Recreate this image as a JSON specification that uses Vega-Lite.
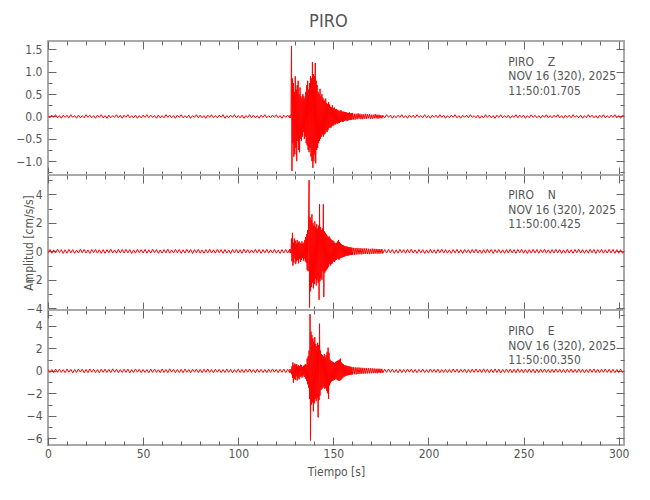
{
"$schema":"https://vega.github.io/schema/vega-lite/v6.json",
"padding":{"left":14,"top":12,"right":24,"bottom":18},
"bounds":"flush",
"spacing":0,
"title":{"text":"PIRO","anchor":"middle","fontSize":18,"font":"DejaVu Sans Condensed, sans-serif","fontWeight":"normal","color":"#555555","offset":9,"dx":6},
"config":{
 "view":{"stroke":"#a9a9a9","strokeWidth":2},
 "axis":{"domain":false,"grid":false,"labelFlush":false,"labelFont":"DejaVu Sans Condensed, sans-serif","labelFontSize":12,"labelColor":"#555555","titleFont":"DejaVu Sans Condensed, sans-serif","titleFontSize":12,"titleColor":"#555555","titleFontWeight":"normal","tickColor":"#666666","tickWidth":1}
},
"data":{"values":[
{"t":0,"z":0.02,"n":-0.11,"e":0.14},{"t":1,"z":-0.03,"n":0.13,"e":-0.15},{"t":2,"z":0.03,"n":-0.14,"e":0.12},{"t":3,"z":-0.02,"n":0.1,"e":-0.17},{"t":4,"z":0.04,"n":-0.12,"e":0.16},{"t":5,"z":-0.03,"n":0.15,"e":-0.13},{"t":6,"z":0.02,"n":-0.09,"e":0.15},{"t":7,"z":-0.04,"n":0.12,"e":-0.14},{"t":8,"z":0.03,"n":-0.15,"e":0.11},{"t":9,"z":-0.02,"n":0.11,"e":-0.16},
{"t":10,"z":0.03,"n":-0.13,"e":0.17},{"t":11,"z":-0.03,"n":0.14,"e":-0.12},{"t":12,"z":0.04,"n":-0.1,"e":0.14},{"t":13,"z":-0.02,"n":0.12,"e":-0.18},{"t":14,"z":0.02,"n":-0.14,"e":0.13},{"t":15,"z":-0.04,"n":0.09,"e":-0.15},{"t":16,"z":0.03,"n":-0.12,"e":0.16},{"t":17,"z":-0.03,"n":0.15,"e":-0.11},{"t":18,"z":0.02,"n":-0.11,"e":0.15},{"t":19,"z":-0.03,"n":0.13,"e":-0.17},
{"t":20,"z":0.04,"n":-0.12,"e":0.13},{"t":21,"z":-0.02,"n":0.1,"e":-0.16},{"t":22,"z":0.03,"n":-0.15,"e":0.17},{"t":23,"z":-0.03,"n":0.13,"e":-0.12},{"t":24,"z":0.02,"n":-0.1,"e":0.14},{"t":25,"z":-0.04,"n":0.14,"e":-0.15},{"t":26,"z":0.03,"n":-0.13,"e":0.12},{"t":27,"z":-0.02,"n":0.11,"e":-0.17},{"t":28,"z":0.04,"n":-0.14,"e":0.15},{"t":29,"z":-0.03,"n":0.12,"e":-0.13},
{"t":30,"z":0.02,"n":-0.14,"e":0.16},{"t":31,"z":-0.04,"n":0.12,"e":-0.14},{"t":32,"z":0.03,"n":-0.1,"e":0.13},{"t":33,"z":-0.03,"n":0.15,"e":-0.16},{"t":34,"z":0.02,"n":-0.12,"e":0.18},{"t":35,"z":-0.02,"n":0.1,"e":-0.12},{"t":36,"z":0.04,"n":-0.13,"e":0.15},{"t":37,"z":-0.03,"n":0.14,"e":-0.17},{"t":38,"z":0.03,"n":-0.11,"e":0.12},{"t":39,"z":-0.04,"n":0.13,"e":-0.14},
{"t":40,"z":0.03,"n":-0.12,"e":0.15},{"t":41,"z":-0.02,"n":0.14,"e":-0.13},{"t":42,"z":0.04,"n":-0.11,"e":0.16},{"t":43,"z":-0.03,"n":0.12,"e":-0.18},{"t":44,"z":0.02,"n":-0.15,"e":0.12},{"t":45,"z":-0.03,"n":0.1,"e":-0.15},{"t":46,"z":0.03,"n":-0.13,"e":0.17},{"t":47,"z":-0.04,"n":0.14,"e":-0.12},{"t":48,"z":0.02,"n":-0.1,"e":0.14},{"t":49,"z":-0.03,"n":0.12,"e":-0.16},
{"t":50,"z":0.03,"n":-0.12,"e":0.13},{"t":51,"z":-0.02,"n":0.14,"e":-0.15},{"t":52,"z":0.04,"n":-0.13,"e":0.12},{"t":53,"z":-0.03,"n":0.11,"e":-0.17},{"t":54,"z":0.03,"n":-0.12,"e":0.15},{"t":55,"z":-0.02,"n":0.15,"e":-0.14},{"t":56,"z":0.02,"n":-0.1,"e":0.16},{"t":57,"z":-0.04,"n":0.13,"e":-0.13},{"t":58,"z":0.03,"n":-0.14,"e":0.11},{"t":59,"z":-0.03,"n":0.1,"e":-0.16},
{"t":60,"z":0.02,"n":-0.13,"e":0.17},{"t":61,"z":-0.03,"n":0.12,"e":-0.14},{"t":62,"z":0.04,"n":-0.11,"e":0.13},{"t":63,"z":-0.02,"n":0.15,"e":-0.16},{"t":64,"z":0.03,"n":-0.13,"e":0.18},{"t":65,"z":-0.03,"n":0.1,"e":-0.12},{"t":66,"z":0.02,"n":-0.12,"e":0.15},{"t":67,"z":-0.04,"n":0.14,"e":-0.17},{"t":68,"z":0.03,"n":-0.1,"e":0.13},{"t":69,"z":-0.02,"n":0.13,"e":-0.15},
{"t":70,"z":0.04,"n":-0.14,"e":0.14},{"t":71,"z":-0.03,"n":0.11,"e":-0.16},{"t":72,"z":0.02,"n":-0.12,"e":0.16},{"t":73,"z":-0.03,"n":0.14,"e":-0.13},{"t":74,"z":0.03,"n":-0.1,"e":0.12},{"t":75,"z":-0.04,"n":0.13,"e":-0.17},{"t":76,"z":0.02,"n":-0.15,"e":0.15},{"t":77,"z":-0.02,"n":0.12,"e":-0.12},{"t":78,"z":0.04,"n":-0.11,"e":0.16},{"t":79,"z":-0.03,"n":0.14,"e":-0.15},
{"t":80,"z":0.03,"n":-0.13,"e":0.13},{"t":81,"z":-0.03,"n":0.1,"e":-0.16},{"t":82,"z":0.02,"n":-0.14,"e":0.15},{"t":83,"z":-0.04,"n":0.12,"e":-0.13},{"t":84,"z":0.03,"n":-0.11,"e":0.17},{"t":85,"z":-0.02,"n":0.15,"e":-0.14},{"t":86,"z":0.04,"n":-0.12,"e":0.12},{"t":87,"z":-0.03,"n":0.11,"e":-0.17},{"t":88,"z":0.02,"n":-0.13,"e":0.15},{"t":89,"z":-0.03,"n":0.14,"e":-0.12},
{"t":90,"z":0.03,"n":-0.1,"e":0.14},{"t":91,"z":-0.02,"n":0.12,"e":-0.16},{"t":92,"z":0.04,"n":-0.14,"e":0.13},{"t":93,"z":-0.04,"n":0.13,"e":-0.15},{"t":94,"z":0.02,"n":-0.12,"e":0.17},{"t":95,"z":-0.03,"n":0.1,"e":-0.13},{"t":96,"z":0.03,"n":-0.15,"e":0.15},{"t":97,"z":-0.02,"n":0.13,"e":-0.17},{"t":98,"z":0.04,"n":-0.11,"e":0.12},{"t":99,"z":-0.03,"n":0.14,"e":-0.14},
{"t":100,"z":0.02,"n":-0.12,"e":0.16},{"t":101,"z":-0.03,"n":0.11,"e":-0.15},{"t":102,"z":0.03,"n":-0.14,"e":0.13},{"t":103,"z":-0.04,"n":0.15,"e":-0.16},{"t":104,"z":0.02,"n":-0.1,"e":0.15},{"t":105,"z":-0.02,"n":0.12,"e":-0.12},{"t":106,"z":0.04,"n":-0.13,"e":0.17},{"t":107,"z":-0.03,"n":0.1,"e":-0.14},{"t":108,"z":0.03,"n":-0.12,"e":0.13},{"t":109,"z":-0.03,"n":0.14,"e":-0.17},
{"t":110,"z":0.02,"n":-0.11,"e":0.16},{"t":111,"z":-0.04,"n":0.13,"e":-0.13},{"t":112,"z":0.03,"n":-0.14,"e":0.14},{"t":113,"z":-0.02,"n":0.12,"e":-0.15},{"t":114,"z":0.04,"n":-0.1,"e":0.12},{"t":115,"z":-0.03,"n":0.15,"e":-0.16},{"t":116,"z":0.02,"n":-0.13,"e":0.15},{"t":117,"z":-0.03,"n":0.11,"e":-0.14},{"t":118,"z":0.03,"n":-0.12,"e":0.17},{"t":119,"z":-0.02,"n":0.14,"e":-0.12},
{"t":120,"z":0.04,"n":-0.13,"e":0.13},{"t":121,"z":-0.03,"n":0.1,"e":-0.16},{"t":122,"z":0.02,"n":-0.14,"e":0.15},{"t":123,"z":-0.04,"n":0.12,"e":-0.13},{"t":124,"z":0.03,"n":-0.11,"e":0.16},{"t":125,"z":-0.02,"n":0.13,"e":-0.15},{"t":126,"z":0.03,"n":-0.12,"e":0.14},{"t":127,"z":-0.03,"n":0.14,"e":-0.16},
{"t":127.25,"z":0.03,"n":-0.12,"e":0.15},{"t":127.5,"z":-0.03,"n":0.13,"e":-0.14},{"t":127.75,"z":0.02,"n":-0.1,"e":0.12},
{"t":128,"z":1.58,"n":0.9,"e":-0.3},{"t":128.25,"z":-1.22,"n":-0.7,"e":0.4},{"t":128.5,"z":0.85,"n":1.3,"e":-0.6},{"t":128.75,"z":-0.6,"n":-1.0,"e":0.75},
{"t":129,"z":0.75,"n":0.6,"e":-1.05},{"t":129.25,"z":-0.9,"n":-0.8,"e":0.5},{"t":129.5,"z":0.55,"n":0.9,"e":-0.7},{"t":129.75,"z":-0.85,"n":-0.5,"e":0.65},
{"t":130,"z":0.9,"n":0.75,"e":-0.8},{"t":130.25,"z":-0.7,"n":-0.9,"e":0.55},{"t":130.5,"z":0.6,"n":0.55,"e":-0.5},{"t":130.75,"z":-1.0,"n":-0.7,"e":0.6},
{"t":131,"z":0.7,"n":0.8,"e":-0.85},{"t":131.25,"z":-0.55,"n":-0.6,"e":0.45},{"t":131.5,"z":0.8,"n":0.65,"e":-0.6},{"t":131.75,"z":-0.75,"n":-0.85,"e":0.5},
{"t":132,"z":0.5,"n":0.7,"e":-0.75},{"t":132.25,"z":-0.8,"n":-0.55,"e":0.4},{"t":132.5,"z":0.65,"n":0.6,"e":-0.55},{"t":132.75,"z":-0.5,"n":-0.75,"e":0.55},
{"t":133,"z":0.45,"n":0.5,"e":-0.45},{"t":133.25,"z":-0.55,"n":-0.6,"e":0.5},{"t":133.5,"z":0.4,"n":0.7,"e":-0.6},{"t":133.75,"z":-0.45,"n":-0.45,"e":0.35},
{"t":134,"z":0.5,"n":0.55,"e":-0.5},{"t":134.25,"z":-0.35,"n":-0.65,"e":0.45},{"t":134.5,"z":0.45,"n":0.6,"e":-0.4},{"t":134.75,"z":-0.5,"n":-0.5,"e":0.5},
{"t":135,"z":0.4,"n":0.8,"e":-0.55},{"t":135.25,"z":-0.45,"n":-0.7,"e":0.6},{"t":135.5,"z":0.55,"n":1.0,"e":-0.7},{"t":135.75,"z":-0.6,"n":-0.8,"e":0.55},
{"t":136,"z":0.7,"n":1.2,"e":-0.9},{"t":136.25,"z":-0.65,"n":-1.3,"e":1.1},{"t":136.5,"z":0.8,"n":1.5,"e":-1.2},{"t":136.75,"z":-0.75,"n":-1.4,"e":1.3},
{"t":137,"z":0.6,"n":2.2,"e":-1.5},{"t":137.25,"z":-0.8,"n":5.0,"e":1.8},{"t":137.5,"z":0.75,"n":-3.95,"e":-2.5},{"t":137.75,"z":-0.7,"n":2.4,"e":5.05},
{"t":138,"z":0.9,"n":-2.8,"e":-6.2},{"t":138.25,"z":-0.9,"n":2.2,"e":3.5},{"t":138.5,"z":0.85,"n":-2.5,"e":-3.0},{"t":138.75,"z":-1.0,"n":2.6,"e":3.2},
{"t":139,"z":1.22,"n":-2.2,"e":-2.8},{"t":139.25,"z":-1.15,"n":2.0,"e":2.9},{"t":139.5,"z":0.95,"n":-2.6,"e":-3.6},{"t":139.75,"z":-1.0,"n":1.8,"e":2.6},
{"t":140,"z":0.9,"n":-2.3,"e":-2.9},{"t":140.25,"z":-0.85,"n":2.1,"e":3.0},{"t":140.5,"z":1.2,"n":-1.9,"e":-2.5},{"t":140.75,"z":-1.05,"n":1.7,"e":2.4},
{"t":141,"z":0.8,"n":-2.4,"e":-2.7},{"t":141.25,"z":-0.75,"n":1.9,"e":2.2},{"t":141.5,"z":0.7,"n":-2.0,"e":-2.4},{"t":141.75,"z":-0.7,"n":1.6,"e":2.5},
{"t":142,"z":0.55,"n":-2.2,"e":-4.15},{"t":142.25,"z":-0.6,"n":1.8,"e":2.3},{"t":142.5,"z":0.5,"n":-3.4,"e":-2.6},{"t":142.75,"z":-0.55,"n":3.3,"e":4.2},
{"t":143,"z":0.62,"n":-2.1,"e":-2.2},{"t":143.25,"z":-0.5,"n":1.7,"e":1.8},{"t":143.5,"z":0.45,"n":-1.9,"e":-1.7},{"t":143.75,"z":-0.45,"n":1.5,"e":1.5},
{"t":144,"z":0.5,"n":-2.0,"e":-1.6},{"t":144.25,"z":-0.4,"n":1.6,"e":1.4},{"t":144.5,"z":0.42,"n":-1.4,"e":-1.5},{"t":144.75,"z":-0.45,"n":3.3,"e":1.3},
{"t":145,"z":0.38,"n":-3.2,"e":-1.4},{"t":145.25,"z":-0.4,"n":1.4,"e":1.5},{"t":145.5,"z":0.35,"n":-1.5,"e":-1.6},{"t":145.75,"z":-0.38,"n":1.3,"e":1.2},
{"t":146,"z":0.4,"n":-1.4,"e":-1.5},{"t":146.25,"z":-0.32,"n":1.2,"e":1.4},{"t":146.5,"z":0.3,"n":-1.3,"e":-1.8},{"t":146.75,"z":-0.35,"n":1.1,"e":1.7},
{"t":147,"z":0.28,"n":-1.2,"e":-2.0},{"t":147.25,"z":-0.3,"n":1.0,"e":2.07},{"t":147.5,"z":0.32,"n":-1.1,"e":-2.5},{"t":147.75,"z":-0.26,"n":1.05,"e":1.6},
{"t":148,"z":0.27,"n":-0.9,"e":-1.3},{"t":148.25,"z":-0.25,"n":0.95,"e":1.0},{"t":148.5,"z":0.22,"n":-1.0,"e":-1.1},{"t":148.75,"z":-0.25,"n":0.85,"e":0.9},
{"t":149,"z":0.2,"n":-0.9,"e":-0.95},{"t":149.25,"z":-0.22,"n":0.8,"e":0.85},{"t":149.5,"z":0.25,"n":-0.85,"e":-0.9},{"t":149.75,"z":-0.2,"n":0.75,"e":0.8},
{"t":150,"z":0.18,"n":-0.7,"e":-0.85},{"t":150.25,"z":-0.2,"n":0.7,"e":0.75},{"t":150.5,"z":0.2,"n":-0.75,"e":-0.8},{"t":150.75,"z":-0.17,"n":0.6,"e":0.7},
{"t":151,"z":0.16,"n":-0.65,"e":-0.75},{"t":151.25,"z":-0.18,"n":0.55,"e":0.8},{"t":151.5,"z":0.17,"n":-0.6,"e":-0.7},{"t":151.75,"z":-0.15,"n":0.6,"e":0.85},
{"t":152,"z":0.15,"n":-0.5,"e":-0.8},{"t":152.25,"z":-0.16,"n":0.7,"e":0.9},{"t":152.5,"z":0.14,"n":-0.55,"e":-0.85},{"t":152.75,"z":-0.15,"n":0.8,"e":0.95},
{"t":153,"z":0.12,"n":-0.6,"e":-0.9},{"t":153.25,"z":-0.14,"n":0.65,"e":1.0},{"t":153.5,"z":0.13,"n":-0.5,"e":-0.85},{"t":153.75,"z":-0.12,"n":0.55,"e":1.1},
{"t":154,"z":0.14,"n":-0.45,"e":-0.8},{"t":154.25,"z":-0.11,"n":0.5,"e":0.75},{"t":154.5,"z":0.12,"n":-0.45,"e":-0.7},{"t":154.75,"z":-0.12,"n":0.45,"e":0.65},
{"t":155,"z":0.1,"n":-0.4,"e":-0.6},{"t":155.25,"z":-0.12,"n":0.42,"e":0.6},{"t":155.5,"z":0.11,"n":-0.4,"e":-0.55},{"t":155.75,"z":-0.1,"n":0.38,"e":0.5},
{"t":156,"z":0.1,"n":-0.36,"e":-0.5},{"t":156.25,"z":-0.09,"n":0.34,"e":0.48},{"t":156.5,"z":0.1,"n":-0.32,"e":-0.45},{"t":156.75,"z":-0.08,"n":0.35,"e":0.47},
{"t":157,"z":0.09,"n":-0.3,"e":-0.42},{"t":157.25,"z":-0.1,"n":0.33,"e":0.44},{"t":157.5,"z":0.08,"n":-0.31,"e":-0.4},{"t":157.75,"z":-0.09,"n":0.3,"e":0.42},
{"t":158,"z":0.08,"n":-0.28,"e":-0.38},{"t":158.25,"z":-0.07,"n":0.3,"e":0.4},{"t":158.5,"z":0.09,"n":-0.27,"e":-0.36},{"t":158.75,"z":-0.08,"n":0.28,"e":0.37},
{"t":159,"z":0.07,"n":-0.26,"e":-0.35},{"t":159.25,"z":-0.08,"n":0.27,"e":0.36},{"t":159.5,"z":0.07,"n":-0.25,"e":-0.33},{"t":159.75,"z":-0.07,"n":0.26,"e":0.34},
{"t":160,"z":0.08,"n":-0.25,"e":-0.32},{"t":160.5,"z":-0.07,"n":0.24,"e":0.33},{"t":161,"z":0.06,"n":-0.25,"e":-0.3},{"t":161.5,"z":-0.07,"n":0.23,"e":0.31},
{"t":162,"z":0.06,"n":-0.22,"e":-0.32},{"t":162.5,"z":-0.06,"n":0.24,"e":0.3},{"t":163,"z":0.07,"n":-0.21,"e":-0.28},{"t":163.5,"z":-0.05,"n":0.22,"e":0.3},
{"t":164,"z":0.06,"n":-0.2,"e":-0.27},{"t":164.5,"z":-0.06,"n":0.22,"e":0.28},{"t":165,"z":0.05,"n":-0.21,"e":-0.26},{"t":165.5,"z":-0.06,"n":0.2,"e":0.27},
{"t":166,"z":0.05,"n":-0.19,"e":-0.25},{"t":166.5,"z":-0.05,"n":0.21,"e":0.26},{"t":167,"z":0.06,"n":-0.18,"e":-0.24},{"t":167.5,"z":-0.05,"n":0.2,"e":0.25},
{"t":168,"z":0.05,"n":-0.19,"e":-0.23},{"t":168.5,"z":-0.04,"n":0.18,"e":0.24},{"t":169,"z":0.05,"n":-0.2,"e":-0.22},{"t":169.5,"z":-0.05,"n":0.17,"e":0.23},
{"t":170,"z":0.04,"n":-0.18,"e":-0.21},{"t":170.5,"z":-0.05,"n":0.19,"e":0.22},{"t":171,"z":0.04,"n":-0.17,"e":-0.2},{"t":171.5,"z":-0.04,"n":0.18,"e":0.21},
{"t":172,"z":0.05,"n":-0.16,"e":-0.2},{"t":172.5,"z":-0.04,"n":0.17,"e":0.19},{"t":173,"z":0.04,"n":-0.16,"e":-0.21},{"t":173.5,"z":-0.05,"n":0.15,"e":0.2},
{"t":174,"z":0.04,"n":-0.17,"e":-0.18},{"t":174.5,"z":-0.04,"n":0.16,"e":0.19},{"t":175,"z":0.03,"n":-0.15,"e":-0.2},{"t":175.5,"z":-0.04,"n":0.16,"e":0.18},
{"t":176,"z":0.03,"n":-0.14,"e":-0.17},
{"t":177,"z":-0.03,"n":0.13,"e":0.15},{"t":178,"z":0.04,"n":-0.12,"e":-0.14},{"t":179,"z":-0.02,"n":0.14,"e":0.17},{"t":180,"z":0.03,"n":-0.1,"e":-0.13},{"t":181,"z":-0.04,"n":0.13,"e":0.16},{"t":182,"z":0.02,"n":-0.15,"e":-0.15},{"t":183,"z":-0.03,"n":0.11,"e":0.12},{"t":184,"z":0.03,"n":-0.13,"e":-0.17},{"t":185,"z":-0.02,"n":0.14,"e":0.14},{"t":186,"z":0.04,"n":-0.1,"e":-0.16},
{"t":187,"z":-0.03,"n":0.12,"e":0.13},{"t":188,"z":0.02,"n":-0.14,"e":-0.15},{"t":189,"z":-0.04,"n":0.13,"e":0.17},{"t":190,"z":0.03,"n":-0.11,"e":-0.12},{"t":191,"z":-0.02,"n":0.15,"e":0.15},{"t":192,"z":0.03,"n":-0.12,"e":-0.16},{"t":193,"z":-0.03,"n":0.1,"e":0.13},{"t":194,"z":0.04,"n":-0.14,"e":-0.17},{"t":195,"z":-0.02,"n":0.13,"e":0.14},{"t":196,"z":0.02,"n":-0.11,"e":-0.13},
{"t":197,"z":-0.03,"n":0.12,"e":0.16},{"t":198,"z":0.04,"n":-0.15,"e":-0.15},{"t":199,"z":-0.03,"n":0.1,"e":0.12},{"t":200,"z":0.02,"n":-0.13,"e":-0.16},{"t":201,"z":-0.04,"n":0.14,"e":0.17},{"t":202,"z":0.03,"n":-0.12,"e":-0.13},{"t":203,"z":-0.02,"n":0.11,"e":0.15},{"t":204,"z":0.03,"n":-0.14,"e":-0.14},{"t":205,"z":-0.03,"n":0.13,"e":0.16},{"t":206,"z":0.04,"n":-0.1,"e":-0.17},
{"t":207,"z":-0.02,"n":0.15,"e":0.12},{"t":208,"z":0.03,"n":-0.12,"e":-0.15},{"t":209,"z":-0.04,"n":0.12,"e":0.14},{"t":210,"z":0.02,"n":-0.13,"e":-0.16},{"t":211,"z":-0.03,"n":0.1,"e":0.13},{"t":212,"z":0.03,"n":-0.14,"e":-0.15},{"t":213,"z":-0.02,"n":0.13,"e":0.17},{"t":214,"z":0.04,"n":-0.11,"e":-0.12},{"t":215,"z":-0.03,"n":0.14,"e":0.15},{"t":216,"z":0.02,"n":-0.12,"e":-0.16},
{"t":217,"z":-0.04,"n":0.11,"e":0.14},{"t":218,"z":0.03,"n":-0.15,"e":-0.13},{"t":219,"z":-0.02,"n":0.13,"e":0.16},{"t":220,"z":0.03,"n":-0.1,"e":-0.17},{"t":221,"z":-0.03,"n":0.12,"e":0.13},{"t":222,"z":0.04,"n":-0.14,"e":-0.15},{"t":223,"z":-0.02,"n":0.13,"e":0.16},{"t":224,"z":0.02,"n":-0.11,"e":-0.14},{"t":225,"z":-0.03,"n":0.15,"e":0.17},{"t":226,"z":0.03,"n":-0.12,"e":-0.13},
{"t":227,"z":-0.04,"n":0.1,"e":0.15},{"t":228,"z":0.02,"n":-0.14,"e":-0.16},{"t":229,"z":-0.03,"n":0.12,"e":0.18},{"t":230,"z":0.04,"n":-0.13,"e":-0.14},{"t":231,"z":-0.02,"n":0.14,"e":0.15},{"t":232,"z":0.03,"n":-0.11,"e":-0.17},{"t":233,"z":-0.03,"n":0.13,"e":0.14},{"t":234,"z":0.02,"n":-0.15,"e":-0.16},{"t":235,"z":-0.04,"n":0.12,"e":0.17},{"t":236,"z":0.03,"n":-0.1,"e":-0.15},
{"t":237,"z":-0.02,"n":0.14,"e":0.16},{"t":238,"z":0.04,"n":-0.13,"e":-0.18},{"t":239,"z":-0.03,"n":0.11,"e":0.14},{"t":240,"z":0.02,"n":-0.14,"e":-0.15},{"t":241,"z":-0.03,"n":0.13,"e":0.17},{"t":242,"z":0.03,"n":-0.12,"e":-0.14},{"t":243,"z":-0.04,"n":0.15,"e":0.16},{"t":244,"z":0.02,"n":-0.11,"e":-0.17},{"t":245,"z":-0.02,"n":0.12,"e":0.15},{"t":246,"z":0.04,"n":-0.14,"e":-0.16},
{"t":247,"z":-0.03,"n":0.13,"e":0.18},{"t":248,"z":0.03,"n":-0.1,"e":-0.14},{"t":249,"z":-0.02,"n":0.14,"e":0.15},{"t":250,"z":0.03,"n":-0.13,"e":-0.17},{"t":251,"z":-0.04,"n":0.11,"e":0.16},{"t":252,"z":0.02,"n":-0.15,"e":-0.15},{"t":253,"z":-0.03,"n":0.12,"e":0.17},{"t":254,"z":0.04,"n":-0.12,"e":-0.14},{"t":255,"z":-0.02,"n":0.14,"e":0.16},{"t":256,"z":0.03,"n":-0.11,"e":-0.18},
{"t":257,"z":-0.03,"n":0.13,"e":0.15},{"t":258,"z":0.02,"n":-0.14,"e":-0.16},{"t":259,"z":-0.04,"n":0.12,"e":0.17},{"t":260,"z":0.03,"n":-0.1,"e":-0.14},{"t":261,"z":-0.02,"n":0.15,"e":0.16},{"t":262,"z":0.04,"n":-0.13,"e":-0.15},{"t":263,"z":-0.03,"n":0.11,"e":0.13},{"t":264,"z":0.02,"n":-0.14,"e":-0.16},{"t":265,"z":-0.03,"n":0.12,"e":0.15},{"t":266,"z":0.03,"n":-0.12,"e":-0.14},
{"t":267,"z":-0.02,"n":0.14,"e":0.17},{"t":268,"z":0.04,"n":-0.11,"e":-0.13},{"t":269,"z":-0.03,"n":0.13,"e":0.15},{"t":270,"z":0.02,"n":-0.15,"e":-0.16},{"t":271,"z":-0.04,"n":0.1,"e":0.14},{"t":272,"z":0.03,"n":-0.13,"e":-0.17},{"t":273,"z":-0.02,"n":0.14,"e":0.15},{"t":274,"z":0.03,"n":-0.12,"e":-0.13},{"t":275,"z":-0.03,"n":0.11,"e":0.16},{"t":276,"z":0.04,"n":-0.14,"e":-0.15},
{"t":277,"z":-0.02,"n":0.13,"e":0.14},{"t":278,"z":0.02,"n":-0.1,"e":-0.16},{"t":279,"z":-0.03,"n":0.15,"e":0.17},{"t":280,"z":0.03,"n":-0.12,"e":-0.14},{"t":281,"z":-0.04,"n":0.12,"e":0.15},{"t":282,"z":0.02,"n":-0.14,"e":-0.17},{"t":283,"z":-0.03,"n":0.11,"e":0.13},{"t":284,"z":0.04,"n":-0.13,"e":-0.15},{"t":285,"z":-0.02,"n":0.14,"e":0.16},{"t":286,"z":0.03,"n":-0.11,"e":-0.14},
{"t":287,"z":-0.03,"n":0.13,"e":0.17},{"t":288,"z":0.02,"n":-0.15,"e":-0.15},{"t":289,"z":-0.04,"n":0.12,"e":0.14},{"t":290,"z":0.03,"n":-0.1,"e":-0.16},{"t":291,"z":-0.02,"n":0.14,"e":0.15},{"t":292,"z":0.04,"n":-0.13,"e":-0.13},{"t":293,"z":-0.03,"n":0.11,"e":0.17},{"t":294,"z":0.02,"n":-0.12,"e":-0.15},{"t":295,"z":-0.03,"n":0.14,"e":0.14},{"t":296,"z":0.03,"n":-0.11,"e":-0.16},
{"t":297,"z":-0.02,"n":0.13,"e":0.15},{"t":298,"z":0.04,"n":-0.14,"e":-0.17},{"t":299,"z":-0.03,"n":0.12,"e":0.13},{"t":300,"z":0.02,"n":-0.13,"e":-0.15},{"t":301,"z":-0.04,"n":0.11,"e":0.16},{"t":302,"z":0.03,"n":-0.14,"e":-0.14},{"t":302.8,"z":0,"n":0,"e":0}
]},
"vconcat":[
{"width":576,"height":134,
 "layer":[
  {"mark":{"type":"line","color":"#ff0000","strokeWidth":1,"clip":true},
   "encoding":{
    "x":{"field":"t","type":"quantitative","scale":{"domain":[0,302.8],"nice":false,"zero":false},"axis":null},
    "y":{"field":"z","type":"quantitative","scale":{"domain":[-1.31,1.69],"nice":false,"zero":false},"axis":{"orient":"left","ticks":false,"values":[-1,-0.5,0,0.5,1,1.5],"format":".1f","labelPadding":6,"title":null}}}},
  {"data":{"values":[{}]},"mark":{"type":"point","opacity":0},
   "encoding":{"x":{"datum":0,"type":"quantitative","axis":{"orient":"bottom","values":[0,50,100,150,200,250,300],"tickSize":-8,"labels":false,"title":null}},
    "y":{"datum":0,"type":"quantitative","axis":{"orient":"left","values":[-1,-0.5,0,0.5,1,1.5],"tickSize":-8,"labels":false,"title":null}}}},
  {"data":{"values":[{}]},"mark":{"type":"point","opacity":0},
   "encoding":{"x":{"datum":0,"type":"quantitative","axis":{"orient":"top","values":[0,50,100,150,200,250,300],"tickSize":-8,"labels":false,"title":null}},
    "y":{"datum":0,"type":"quantitative","axis":{"orient":"right","values":[-1,-0.5,0,0.5,1,1.5],"tickSize":-8,"labels":false,"title":null}}}},
  {"data":{"values":[{}]},"mark":{"type":"point","opacity":0},
   "encoding":{"x":{"datum":0,"type":"quantitative","axis":{"orient":"bottom","values":[10,20,30,40,60,70,80,90,110,120,130,140,160,170,180,190,210,220,230,240,260,270,280,290],"tickSize":-4,"labels":false,"title":null}},
    "y":{"datum":0,"type":"quantitative","axis":{"orient":"left","values":[-1.25,-0.75,-0.25,0.25,0.75,1.25],"tickSize":-4,"labels":false,"title":null}}}},
  {"data":{"values":[{}]},"mark":{"type":"point","opacity":0},
   "encoding":{"x":{"datum":0,"type":"quantitative","axis":{"orient":"top","values":[10,20,30,40,60,70,80,90,110,120,130,140,160,170,180,190,210,220,230,240,260,270,280,290],"tickSize":-4,"labels":false,"title":null}},
    "y":{"datum":0,"type":"quantitative","axis":{"orient":"right","values":[-1.25,-0.75,-0.25,0.25,0.75,1.25],"tickSize":-4,"labels":false,"title":null}}}},
  {"data":{"values":[{}]},"mark":{"type":"text","text":["PIRO\u00a0\u00a0\u00a0\u00a0Z","NOV 16 (320), 2025","11:50:01.705"],"align":"left","baseline":"top","lineHeight":14.5,"font":"DejaVu Sans Condensed, sans-serif","fontSize":12,"color":"#555555"},
   "encoding":{"x":{"datum":242,"type":"quantitative","axis":null},"y":{"datum":1.34,"type":"quantitative","axis":null}}}
 ],
 "resolve":{"axis":{"x":"independent","y":"independent"}}},
{"width":576,"height":135,
 "layer":[
  {"mark":{"type":"line","color":"#ff0000","strokeWidth":1,"clip":true},
   "encoding":{
    "x":{"field":"t","type":"quantitative","scale":{"domain":[0,302.8],"nice":false,"zero":false},"axis":null},
    "y":{"field":"n","type":"quantitative","scale":{"domain":[-4.12,5.36],"nice":false,"zero":false},"axis":{"orient":"left","ticks":false,"values":[-4,-2,0,2,4],"format":"d","labelPadding":6,"title":"Amplitud [cm/s/s]","titleX":-20,"titleBaseline":"middle"}}}},
  {"data":{"values":[{}]},"mark":{"type":"point","opacity":0},
   "encoding":{"x":{"datum":0,"type":"quantitative","axis":{"orient":"bottom","values":[0,50,100,150,200,250,300],"tickSize":-8,"labels":false,"title":null}},
    "y":{"datum":0,"type":"quantitative","axis":{"orient":"left","values":[-4,-2,0,2,4],"tickSize":-8,"labels":false,"title":null}}}},
  {"data":{"values":[{}]},"mark":{"type":"point","opacity":0},
   "encoding":{"x":{"datum":0,"type":"quantitative","axis":{"orient":"top","values":[0,50,100,150,200,250,300],"tickSize":-8,"labels":false,"title":null}},
    "y":{"datum":0,"type":"quantitative","axis":{"orient":"right","values":[-4,-2,0,2,4],"tickSize":-8,"labels":false,"title":null}}}},
  {"data":{"values":[{}]},"mark":{"type":"point","opacity":0},
   "encoding":{"x":{"datum":0,"type":"quantitative","axis":{"orient":"bottom","values":[10,20,30,40,60,70,80,90,110,120,130,140,160,170,180,190,210,220,230,240,260,270,280,290],"tickSize":-4,"labels":false,"title":null}},
    "y":{"datum":0,"type":"quantitative","axis":{"orient":"left","values":[-3,-1,1,3,5],"tickSize":-4,"labels":false,"title":null}}}},
  {"data":{"values":[{}]},"mark":{"type":"point","opacity":0},
   "encoding":{"x":{"datum":0,"type":"quantitative","axis":{"orient":"top","values":[10,20,30,40,60,70,80,90,110,120,130,140,160,170,180,190,210,220,230,240,260,270,280,290],"tickSize":-4,"labels":false,"title":null}},
    "y":{"datum":0,"type":"quantitative","axis":{"orient":"right","values":[-3,-1,1,3,5],"tickSize":-4,"labels":false,"title":null}}}},
  {"data":{"values":[{}]},"mark":{"type":"text","text":["PIRO\u00a0\u00a0\u00a0\u00a0N","NOV 16 (320), 2025","11:50:00.425"],"align":"left","baseline":"top","lineHeight":14.5,"font":"DejaVu Sans Condensed, sans-serif","fontSize":12,"color":"#555555"},
   "encoding":{"x":{"datum":242,"type":"quantitative","axis":null},"y":{"datum":4.28,"type":"quantitative","axis":null}}}
 ],
 "resolve":{"axis":{"x":"independent","y":"independent"}}},
{"width":576,"height":135,
 "layer":[
  {"mark":{"type":"line","color":"#ff0000","strokeWidth":1,"clip":true},
   "encoding":{
    "x":{"field":"t","type":"quantitative","scale":{"domain":[0,302.8],"nice":false,"zero":false},"axis":{"orient":"bottom","ticks":false,"values":[0,50,100,150,200,250,300],"format":"d","labelPadding":3,"title":"Tiempo [s]","titlePadding":7}},
    "y":{"field":"e","type":"quantitative","scale":{"domain":[-6.6,5.42],"nice":false,"zero":false},"axis":{"orient":"left","ticks":false,"values":[-6,-4,-2,0,2,4],"format":"d","labelPadding":6,"title":null}}}},
  {"data":{"values":[{}]},"mark":{"type":"point","opacity":0},
   "encoding":{"x":{"datum":0,"type":"quantitative","axis":{"orient":"bottom","values":[0,50,100,150,200,250,300],"tickSize":-8,"labels":false,"title":null}},
    "y":{"datum":0,"type":"quantitative","axis":{"orient":"left","values":[-6,-4,-2,0,2,4],"tickSize":-8,"labels":false,"title":null}}}},
  {"data":{"values":[{}]},"mark":{"type":"point","opacity":0},
   "encoding":{"x":{"datum":0,"type":"quantitative","axis":{"orient":"top","values":[0,50,100,150,200,250,300],"tickSize":-8,"labels":false,"title":null}},
    "y":{"datum":0,"type":"quantitative","axis":{"orient":"right","values":[-6,-4,-2,0,2,4],"tickSize":-8,"labels":false,"title":null}}}},
  {"data":{"values":[{}]},"mark":{"type":"point","opacity":0},
   "encoding":{"x":{"datum":0,"type":"quantitative","axis":{"orient":"bottom","values":[10,20,30,40,60,70,80,90,110,120,130,140,160,170,180,190,210,220,230,240,260,270,280,290],"tickSize":-4,"labels":false,"title":null}},
    "y":{"datum":0,"type":"quantitative","axis":{"orient":"left","values":[-5,-3,-1,1,3,5],"tickSize":-4,"labels":false,"title":null}}}},
  {"data":{"values":[{}]},"mark":{"type":"point","opacity":0},
   "encoding":{"x":{"datum":0,"type":"quantitative","axis":{"orient":"top","values":[10,20,30,40,60,70,80,90,110,120,130,140,160,170,180,190,210,220,230,240,260,270,280,290],"tickSize":-4,"labels":false,"title":null}},
    "y":{"datum":0,"type":"quantitative","axis":{"orient":"right","values":[-5,-3,-1,1,3,5],"tickSize":-4,"labels":false,"title":null}}}},
  {"data":{"values":[{}]},"mark":{"type":"text","text":["PIRO\u00a0\u00a0\u00a0\u00a0E","NOV 16 (320), 2025","11:50:00.350"],"align":"left","baseline":"top","lineHeight":14.5,"font":"DejaVu Sans Condensed, sans-serif","fontSize":12,"color":"#555555"},
   "encoding":{"x":{"datum":242,"type":"quantitative","axis":null},"y":{"datum":3.96,"type":"quantitative","axis":null}}}
 ],
 "resolve":{"axis":{"x":"independent","y":"independent"}}}
]
}
